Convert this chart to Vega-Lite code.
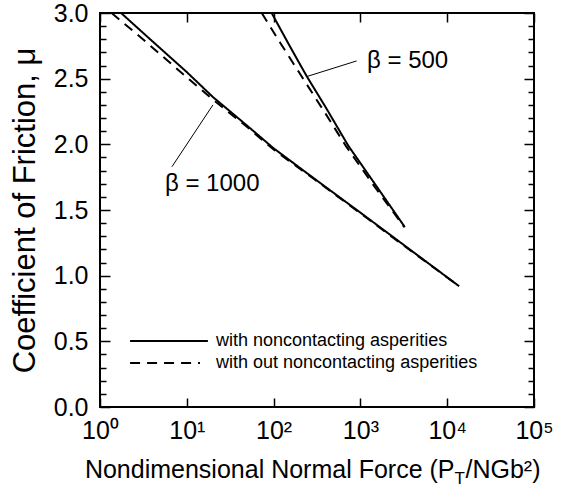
{
  "$schema": "https://vega.github.io/schema/vega-lite/v6.json",
  "width": 434,
  "height": 394,
  "autosize": {"type": "none"},
  "padding": {"left": 100, "top": 13, "right": 31, "bottom": 81},
  "background": "white",
  "config": {
    "view": {"stroke": "black", "strokeWidth": 2},
    "font": "Liberation Sans",
    "axis": {
      "domain": false, "grid": false, "tickColor": "black", "tickWidth": 1.5,
      "labelColor": "black", "titleColor": "black",
      "labelFont": "Liberation Sans", "titleFont": "Liberation Sans",
      "titleFontWeight": "normal", "labelFlush": false, "labelOverlap": false
    },
    "text": {"font": "Liberation Sans", "color": "black"}
  },
  "datasets": {
    "curves": [
      {"series": "1000-with", "kind": "with", "force": 1.75, "mu": 3.0},
      {"series": "1000-with", "kind": "with", "force": 3, "mu": 2.86},
      {"series": "1000-with", "kind": "with", "force": 10, "mu": 2.55},
      {"series": "1000-with", "kind": "with", "force": 20, "mu": 2.36},
      {"series": "1000-with", "kind": "with", "force": 50, "mu": 2.14},
      {"series": "1000-with", "kind": "with", "force": 100, "mu": 1.97},
      {"series": "1000-with", "kind": "with", "force": 300, "mu": 1.735},
      {"series": "1000-with", "kind": "with", "force": 1000, "mu": 1.48},
      {"series": "1000-with", "kind": "with", "force": 3000, "mu": 1.245},
      {"series": "1000-with", "kind": "with", "force": 13700, "mu": 0.92},
      {"series": "1000-without", "kind": "without", "force": 1.36, "mu": 3.0},
      {"series": "1000-without", "kind": "without", "force": 3, "mu": 2.81},
      {"series": "1000-without", "kind": "without", "force": 10, "mu": 2.51},
      {"series": "1000-without", "kind": "without", "force": 20, "mu": 2.34},
      {"series": "1000-without", "kind": "without", "force": 50, "mu": 2.13},
      {"series": "1000-without", "kind": "without", "force": 100, "mu": 1.96},
      {"series": "1000-without", "kind": "without", "force": 300, "mu": 1.73},
      {"series": "1000-without", "kind": "without", "force": 1000, "mu": 1.475},
      {"series": "1000-without", "kind": "without", "force": 3000, "mu": 1.24},
      {"series": "1000-without", "kind": "without", "force": 13700, "mu": 0.92},
      {"series": "500-with", "kind": "with", "force": 95, "mu": 3.0},
      {"series": "500-with", "kind": "with", "force": 150, "mu": 2.76},
      {"series": "500-with", "kind": "with", "force": 240, "mu": 2.52},
      {"series": "500-with", "kind": "with", "force": 400, "mu": 2.28},
      {"series": "500-with", "kind": "with", "force": 724, "mu": 1.99},
      {"series": "500-with", "kind": "with", "force": 1500, "mu": 1.69},
      {"series": "500-with", "kind": "with", "force": 3250, "mu": 1.37},
      {"series": "500-without", "kind": "without", "force": 73, "mu": 3.0},
      {"series": "500-without", "kind": "without", "force": 120, "mu": 2.77},
      {"series": "500-without", "kind": "without", "force": 209, "mu": 2.52},
      {"series": "500-without", "kind": "without", "force": 400, "mu": 2.23},
      {"series": "500-without", "kind": "without", "force": 676, "mu": 1.99},
      {"series": "500-without", "kind": "without", "force": 1450, "mu": 1.68},
      {"series": "500-without", "kind": "without", "force": 3200, "mu": 1.37}
    ],
    "legendLines": [
      {"kind": "with", "force": 2.22, "force2": 17.5, "mu": 0.503},
      {"kind": "without", "force": 2.22, "force2": 14.2, "mu": 0.335}
    ],
    "legendText": [
      {"text": "with noncontacting asperities", "force": 21.7, "mu": 0.503},
      {"text": "with out noncontacting asperities", "force": 21.7, "mu": 0.335}
    ],
    "labels": [
      {"text": "β = 500", "force": 1191, "mu": 2.635},
      {"text": "β = 1000", "force": 5.6, "mu": 1.70}
    ],
    "leaders": [
      {"force": 240.6, "mu": 2.516, "force2": 905, "mu2": 2.635},
      {"force": 6.75, "mu": 1.83, "force2": 20.0, "mu2": 2.30}
    ],
    "xtitle": [
      {"part": "Nondimensional Normal Force (P", "force": 12140, "mu": -0.54}
    ]
  },
  "layer": [
    {
      "data": {"name": "curves"},
      "mark": {"type": "line", "color": "black", "strokeWidth": 2, "clip": true},
      "encoding": {
        "x": {
          "field": "force", "type": "quantitative",
          "scale": {"type": "log", "domain": [1, 100000]},
          "axis": {
            "orient": "bottom", "values": [1, 10, 100, 1000, 10000, 100000],
            "tickSize": -9, "labelPadding": 20, "labelFontSize": 25,
            "labelExpr": "'10' + ['⁰','¹','²','³','⁴','⁵'][round(log(datum.value)/LN10)]",
            "title": null
          }
        },
        "y": {
          "field": "mu", "type": "quantitative",
          "scale": {"domain": [0, 3]},
          "axis": {
            "orient": "left", "values": [0, 0.5, 1, 1.5, 2, 2.5, 3],
            "tickSize": -10, "labelPadding": 22, "labelFontSize": 25, "format": ".1f",
            "title": "Coefficient of Friction, μ", "titleFontSize": 31, "titlePadding": 12
          }
        },
        "detail": {"field": "series"},
        "strokeDash": {
          "field": "kind", "type": "nominal",
          "scale": {"domain": ["with", "without"], "range": [[1, 0], [10, 7]]},
          "legend": null
        }
      }
    },
    {
      "data": {"name": "legendLines"},
      "mark": {"type": "rule", "color": "black", "strokeWidth": 2},
      "encoding": {
        "x": {
          "field": "force", "type": "quantitative",
          "axis": {"orient": "top", "values": [1, 10, 100, 1000, 10000, 100000], "tickSize": -9, "labels": false, "title": null}
        },
        "x2": {"field": "force2"},
        "y": {
          "field": "mu", "type": "quantitative",
          "axis": {"orient": "left", "values": [0.1,0.2,0.3,0.4,0.6,0.7,0.8,0.9,1.1,1.2,1.3,1.4,1.6,1.7,1.8,1.9,2.1,2.2,2.3,2.4,2.6,2.7,2.8,2.9], "tickSize": -6, "labels": false, "title": null}
        },
        "strokeDash": {"field": "kind", "type": "nominal", "legend": null}
      }
    },
    {
      "data": {"name": "legendText"},
      "mark": {"type": "text", "fontSize": 18, "align": "left", "baseline": "middle"},
      "encoding": {
        "x": {"field": "force", "type": "quantitative", "axis": null},
        "y": {
          "field": "mu", "type": "quantitative",
          "axis": {"orient": "right", "values": [0, 0.5, 1, 1.5, 2, 2.5, 3], "tickSize": -10, "labels": false, "title": null}
        },
        "text": {"field": "text"}
      }
    },
    {
      "data": {"name": "labels"},
      "mark": {"type": "text", "fontSize": 24, "align": "left", "baseline": "middle"},
      "encoding": {
        "x": {"field": "force", "type": "quantitative", "axis": null},
        "y": {
          "field": "mu", "type": "quantitative",
          "axis": {"orient": "right", "values": [0.1,0.2,0.3,0.4,0.6,0.7,0.8,0.9,1.1,1.2,1.3,1.4,1.6,1.7,1.8,1.9,2.1,2.2,2.3,2.4,2.6,2.7,2.8,2.9], "tickSize": -6, "labels": false, "title": null}
        },
        "text": {"field": "text"}
      }
    },
    {
      "data": {"name": "leaders"},
      "mark": {"type": "rule", "color": "black", "strokeWidth": 1},
      "encoding": {
        "x": {"field": "force", "type": "quantitative", "axis": null},
        "x2": {"field": "force2"},
        "y": {"field": "mu", "type": "quantitative", "axis": null},
        "y2": {"field": "mu2"}
      }
    },
    {
      "data": {"name": "xtitle"},
      "mark": {"type": "text", "fontSize": 25, "align": "right", "baseline": "alphabetic"},
      "encoding": {
        "x": {"field": "force", "type": "quantitative", "axis": null},
        "y": {"field": "mu", "type": "quantitative", "axis": null},
        "text": {"field": "part"}
      }
    },
    {
      "data": {"name": "xtitle"},
      "mark": {"type": "text", "fontSize": 17, "align": "left", "baseline": "alphabetic", "dy": 6},
      "encoding": {
        "x": {"field": "force", "type": "quantitative", "axis": null},
        "y": {"field": "mu", "type": "quantitative", "axis": null},
        "text": {"value": "T"}
      }
    },
    {
      "data": {"name": "xtitle"},
      "mark": {"type": "text", "fontSize": 25, "align": "left", "baseline": "alphabetic", "dx": 11},
      "encoding": {
        "x": {"field": "force", "type": "quantitative", "axis": null},
        "y": {"field": "mu", "type": "quantitative", "axis": null},
        "text": {"value": "/NGb²)"}
      }
    }
  ],
  "resolve": {"axis": {"x": "independent", "y": "independent"}}
}
